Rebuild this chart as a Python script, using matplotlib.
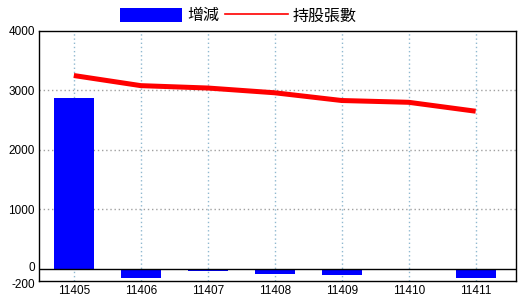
import matplotlib
matplotlib.use("Agg")
import matplotlib.pyplot as plt
import matplotlib.transforms as mtransforms
import numpy as np
from matplotlib.patches import Patch
from matplotlib.lines import Line2D

# monthly data (ROC year-month)
months = ["11405", "11406", "11407", "11408", "11409", "11410", "11411"]
change = [2870, -145, -30, -80, -110, 0, -145]          # 增減
holdings = [3250, 3080, 3040, 2960, 2830, 2800, 2650]   # 持股張數
yticks = [-200, 0, 1000, 2000, 3000, 4000]

NUM_FONT = ["Liberation Sans", "DejaVu Sans"]
CJK_FONT = ["Noto Sans CJK TC", "DejaVu Sans"]

fig = plt.figure(figsize=(5.2, 3.0), dpi=100)
fig.patch.set_facecolor("white")
ax = fig.add_axes([0.075, 0.064, 0.917, 0.833])

x = np.arange(len(months))
ax.bar(x, change, width=0.6, color="#0000ff", zorder=3)
ax.plot(x, holdings, color="#ff0000", linewidth=3.6, solid_capstyle="butt", zorder=4)
ax.axhline(0, color="black", linewidth=1.0, zorder=3)

ax.set_xlim(-0.52, 6.6)
ax.set_ylim(-200, 4000)

ax.set_xticks(x)
ax.set_xticklabels(months, family=NUM_FONT, fontsize=8.5)
ax.set_yticks(yticks)
ax.set_yticklabels([str(v) for v in yticks], family=NUM_FONT, fontsize=8.5)
ax.tick_params(axis="both", length=0, colors="black")
ax.tick_params(axis="x", pad=3)
ax.tick_params(axis="y", pad=3)

# the 0 and -200 labels sit very close; nudge them apart a little
ylabels = ax.get_yticklabels()
ylabels[0].set_transform(ylabels[0].get_transform() +
                         mtransforms.ScaledTranslation(0, -2 / 72, fig.dpi_scale_trans))
ylabels[1].set_transform(ylabels[1].get_transform() +
                         mtransforms.ScaledTranslation(0, 2 / 72, fig.dpi_scale_trans))

# dotted grids: blue vertical, gray horizontal
ax.xaxis.grid(True, color="#8fb8d0", linestyle=(0, (1, 2)), linewidth=1.0, zorder=1)
for v in [1000, 2000, 3000]:
    ax.axhline(v, color="#a0a0a0", linestyle=(0, (1, 2)), linewidth=1.0, zorder=1)

for spine in ax.spines.values():
    spine.set_edgecolor("black")
    spine.set_linewidth(1.0)

handles = [Patch(facecolor="#0000ff", edgecolor="none"),
           Line2D([], [], color="#ff0000", linewidth=1.2)]
fig.legend(handles, ["增減", "持股張數"], loc="center", bbox_to_anchor=(0.458, 0.947),
           ncol=2, frameon=False, handlelength=3.9, handleheight=1.0,
           handletextpad=0.3, columnspacing=0.4, borderaxespad=0,
           prop={"family": CJK_FONT, "size": 11.5})

fig.savefig("out.png", dpi=100, facecolor="white")
plt.close(fig)
